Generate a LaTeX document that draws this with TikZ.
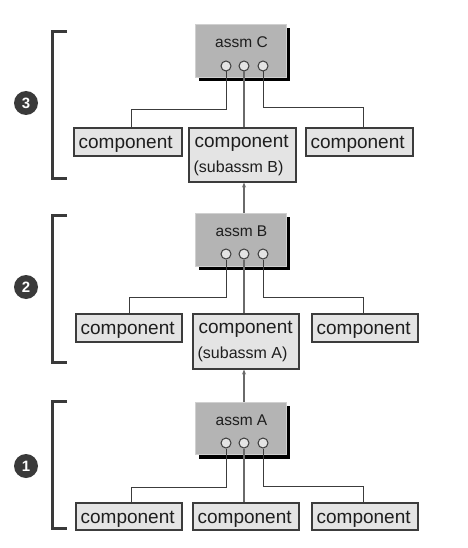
\documentclass[tikz,border=0pt]{standalone}
\usepackage{fontspec}
\setmainfont{Liberation Sans}
\usetikzlibrary{calc,arrows.meta}
\definecolor{linec}{HTML}{3C3C3C}
\definecolor{compfill}{HTML}{E4E4E4}
\definecolor{assmfill}{HTML}{B4B4B4}
\definecolor{assmedge}{HTML}{D0D0D0}
\definecolor{brk}{HTML}{3A3A3A}
\definecolor{txt}{HTML}{1E1E1E}
\definecolor{midline}{HTML}{6A6A6A}
\tikzset{
  compbox/.style={draw=linec, fill=compfill, line width=1.1pt, inner sep=0pt, minimum width=#1},
  assmbox/.style={draw=assmedge, fill=assmfill, line width=0.6pt, inner sep=0pt, minimum width=91pt, minimum height=53pt},
  shadowbox/.style={fill=black, inner sep=0pt, minimum width=91pt, minimum height=53pt},
  port/.style={circle, draw=linec, fill=compfill, line width=1pt, inner sep=0pt, minimum size=10pt},
  ctext/.style={anchor=west, inner sep=0pt, text=txt, font=\fontsize{19}{22}\selectfont, text height=14pt, text depth=4pt},
  stext/.style={anchor=west, inner sep=0pt, text=txt, font=\fontsize{16}{19}\selectfont, text height=12pt, text depth=3.5pt},
  atext/.style={inner sep=0pt, text=txt, font=\fontsize{15.5}{18}\selectfont, text height=11.5pt, text depth=3pt},
  wire/.style={draw=linec, line width=1pt},
  midwire/.style={draw=midline, line width=1.5pt},
  arr/.style={draw=midline, line width=1.3pt, -{Stealth[length=5pt,width=4pt]}},
  bracket/.style={draw=brk, line width=3pt, miter limit=10},
  badge/.style={circle, fill=brk, inner sep=0pt, minimum size=24pt, text=white, font=\fontsize{15}{15}\bfseries\selectfont}
}
\begin{document}
\begin{tikzpicture}[x=1pt,y=-1pt]
\useasboundingbox[fill=white] (0,0) rectangle (467,548);

% ---------- level 3 ----------
\node[shadowbox] (s3) at (244.5,54.5) {};
\node[assmbox] (a3) at (240.5,50.5) {};
\node[atext] (a3t) at (241.5,43.5) {assm C};
\node[port] (p3a) at (226,66) {};
\node[port] (p3b) at (244,66) {};
\node[port] (p3c) at (263,66) {};
\node[compbox=108pt, minimum height=28pt] (l3) at (128,142) {};
\node[compbox=107pt, minimum height=54pt] (m3) at (242.5,155) {};
\node[compbox=107pt, minimum height=28pt] (r3) at (359.5,142) {};
\node[ctext] (l3t) at ($(l3.west)+(5,1.5)$) {component};
\node[ctext] (m3t) at ($(m3.north west)+(6,15.5)$) {component};
\node[stext] (m3s) at ($(m3.north west)+(5,41)$) {(subassm B)};
\node[ctext] (r3t) at ($(r3.west)+(5,1.5)$) {component};
\draw[wire] (p3a.south) |- (131,110) -- (131,0 |- l3.north);
\draw[midwire] (p3b.south) -- (p3b.south |- m3.north);
\draw[wire] (p3c.south) |- (363,108) -- (363,0 |- r3.north);
\draw[bracket] (67,32) -- (52,32) -- (52,178) -- (67,178);
\node[badge] (n3) at (26,103) {3};

% ---------- level 2 ----------
\node[shadowbox] (s2) at (244.5,243.5) {};
\node[assmbox] (a2) at (240.5,239.5) {};
\node[atext] (a2t) at (241.5,232.5) {assm B};
\node[port] (p2a) at (226,254) {};
\node[port] (p2b) at (244,254) {};
\node[port] (p2c) at (263,254) {};
\node[compbox=106pt, minimum height=28pt] (l2) at (129,328) {};
\node[compbox=106pt, minimum height=55pt] (m2) at (246,341.5) {};
\node[compbox=106pt, minimum height=28pt] (r2) at (365,328) {};
\node[ctext] (l2t) at ($(l2.west)+(5,1.5)$) {component};
\node[ctext] (m2t) at ($(m2.north west)+(6,15.5)$) {component};
\node[stext] (m2s) at ($(m2.north west)+(5,41)$) {(subassm A)};
\node[ctext] (r2t) at ($(r2.west)+(5,1.5)$) {component};
\draw[wire] (p2a.south) |- (129,297) -- (129,0 |- l2.north);
\draw[midwire] (p2b.south) -- (p2b.south |- m2.north);
\draw[wire] (p2c.south) |- (363,297) -- (363,0 |- r2.north);
\draw[bracket] (67,215) -- (52,215) -- (52,362) -- (67,362);
\node[badge] (n2) at (26,287) {2};
\draw[arr] (p2b |- a2.north) -- (p2b |- m3.south);

% ---------- level 1 ----------
\node[shadowbox] (s1) at (244.5,432) {};
\node[assmbox, minimum height=52pt] (a1) at (240.5,428) {};
\node[atext] (a1t) at (241.5,421.5) {assm A};
\node[port] (p1a) at (226,443) {};
\node[port] (p1b) at (244,443) {};
\node[port] (p1c) at (263,443) {};
\node[compbox=106pt, minimum height=27pt] (l1) at (129,516.5) {};
\node[compbox=106pt, minimum height=27pt] (m1) at (246,516.5) {};
\node[compbox=106pt, minimum height=27pt] (r1) at (365,516.5) {};
\node[ctext] (l1t) at ($(l1.west)+(5,1.5)$) {component};
\node[ctext] (m1t) at ($(m1.west)+(5,1.5)$) {component};
\node[ctext] (r1t) at ($(r1.west)+(5,1.5)$) {component};
\draw[wire] (p1a.south) |- (131,487) -- (131,0 |- l1.north);
\draw[midwire] (p1b.south) -- (p1b.south |- m1.north);
\draw[wire] (p1c.south) |- (363,486) -- (363,0 |- r1.north);
\draw[bracket] (67,401) -- (52,401) -- (52,528) -- (67,528);
\node[badge] (n1) at (26,466) {1};
\draw[arr] (p1b |- a1.north) -- (p1b |- m2.south);
\end{tikzpicture}
\end{document}
